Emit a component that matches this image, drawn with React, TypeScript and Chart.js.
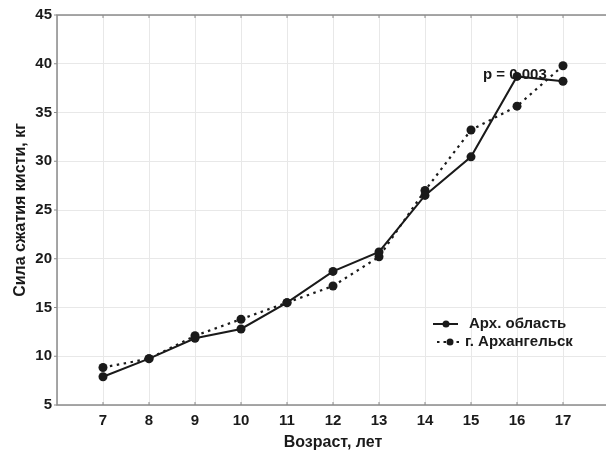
import { useEffect, useRef } from "react";
import { Chart, registerables } from "chart.js";

Chart.register(...registerables);

// Age groups (years)
const ages = [7, 8, 9, 10, 11, 12, 13, 14, 15, 16, 17];
// Mean hand grip strength, kg
const regionValues = [7.9, 9.75, 11.85, 12.8, 15.5, 18.7, 20.7, 26.5, 30.45, 38.7, 38.2];
const cityValues = [8.85, 9.75, 12.1, 13.8, 15.5, 17.2, 20.2, 27.0, 33.2, 35.65, 39.8];

const seriesNames = ["Арх. область", "г. Архангельск"];
const xTitle = "Возраст, лет";
const yTitle = "Сила сжатия кисти, кг";
const pLabel = "p = 0.003";
const pLabelAt = { x: 15.26, y: 38.85 };

const FONT = "'Liberation Sans', Arial, sans-serif";
const INK = "#1a1a1a";
const AXIS = "#8a8a8a";

const frameAndLegend = {
  id: "frameAndLegend",
  beforeDatasetsDraw(chart: any) {
    const { ctx, scales } = chart;
    ctx.save();
    ctx.font = `bold 15px ${FONT}`;
    ctx.fillStyle = INK;
    ctx.textAlign = "left";
    ctx.textBaseline = "middle";
    ctx.fillText(pLabel, scales.x.getPixelForValue(pLabelAt.x), scales.y.getPixelForValue(pLabelAt.y));
    ctx.restore();
  },
  afterDraw(chart: any) {
    const { ctx, chartArea: a, scales } = chart;
    ctx.save();
    // frame
    ctx.strokeStyle = AXIS;
    ctx.lineWidth = 1.5;
    ctx.strokeRect(a.left, a.top, a.right - a.left, a.bottom - a.top);
    // inward tick marks
    ctx.lineWidth = 1;
    scales.x.ticks.forEach((t: any) => {
      if (t.value <= 6 || t.value >= 18) return;
      const px = scales.x.getPixelForValue(t.value);
      ctx.beginPath();
      ctx.moveTo(px, a.bottom);
      ctx.lineTo(px, a.bottom - 3);
      ctx.moveTo(px, a.top);
      ctx.lineTo(px, a.top + 3);
      ctx.stroke();
    });
    scales.y.ticks.forEach((t: any) => {
      const py = scales.y.getPixelForValue(t.value);
      ctx.beginPath();
      ctx.moveTo(a.left, py);
      ctx.lineTo(a.left - 3, py);
      ctx.moveTo(a.right, py);
      ctx.lineTo(a.right - 3, py);
      ctx.stroke();
    });

    // legend
    const lx = a.left + 376;
    const rows = [
      { y: a.bottom - 81, dash: [] as number[] },
      { y: a.bottom - 63, dash: [2.5, 4] },
    ];
    rows.forEach((r, i) => {
      const x0 = lx + (i === 0 ? 0 : 4);
      ctx.strokeStyle = INK;
      ctx.lineWidth = 2;
      ctx.setLineDash(r.dash);
      ctx.beginPath();
      ctx.moveTo(x0, r.y);
      ctx.lineTo(x0 + 25, r.y);
      ctx.stroke();
      ctx.setLineDash([]);
      ctx.fillStyle = INK;
      ctx.beginPath();
      ctx.arc(x0 + 13, r.y, 3.5, 0, Math.PI * 2);
      ctx.fill();
      ctx.font = `bold 15px ${FONT}`;
      ctx.textAlign = "left";
      ctx.textBaseline = "middle";
      ctx.fillText(seriesNames[i], i === 0 ? lx + 36 : lx + 32, r.y);
    });
    ctx.restore();
  },
};

export default function App() {
  const ref = useRef<HTMLCanvasElement | null>(null);

  useEffect(() => {
    if (!ref.current) return;
    const chart = new Chart(ref.current, {
      type: "line",
      data: {
        datasets: [
          {
            label: seriesNames[0],
            data: ages.map((a, i) => ({ x: a, y: regionValues[i] })),
            borderColor: INK,
            backgroundColor: INK,
            borderWidth: 2,
            pointRadius: 4.5,
            pointBackgroundColor: INK,
            pointBorderWidth: 0,
            tension: 0,
          },
          {
            label: seriesNames[1],
            data: ages.map((a, i) => ({ x: a, y: cityValues[i] })),
            borderColor: INK,
            backgroundColor: INK,
            borderWidth: 2.2,
            borderDash: [2.5, 4.5],
            pointRadius: 4.5,
            pointBackgroundColor: INK,
            pointBorderWidth: 0,
            tension: 0,
          },
        ],
      },
      options: {
        responsive: false,
        animation: false,
        layout: { padding: { top: 15, right: 0, left: 0, bottom: 0 } },
        plugins: {
          legend: { display: false },
          tooltip: { enabled: false },
        },
        scales: {
          x: {
            type: "linear",
            min: 6,
            max: 18,
            afterFit: (s: any) => {
              s.height = 47;
            },
            ticks: {
              stepSize: 1,
              padding: 7,
              color: INK,
              font: { family: FONT, size: 15, weight: "bold" },
              callback: (v: any) => (v <= 6 || v >= 18 ? "" : String(v)),
            },
            grid: { color: "#e8e8e8", lineWidth: 1, drawTicks: false },
            border: { display: false },
            title: {
              display: true,
              text: xTitle,
              color: INK,
              font: { family: FONT, size: 16, weight: "bold" },
              padding: { top: 0, bottom: 0 },
            },
          },
          y: {
            type: "linear",
            min: 5,
            max: 45,
            afterFit: (s: any) => {
              s.width = 57;
            },
            ticks: {
              stepSize: 5,
              padding: 5,
              color: INK,
              font: { family: FONT, size: 15, weight: "bold" },
            },
            grid: { color: "#e8e8e8", lineWidth: 1, drawTicks: false },
            border: { display: false },
            title: {
              display: true,
              text: yTitle,
              color: INK,
              font: { family: FONT, size: 16, weight: "bold" },
              padding: { top: 11, bottom: 0 },
            },
          },
        },
      },
      plugins: [frameAndLegend],
    });
    return () => chart.destroy();
  }, []);

  return (
    <div
      style={{
        position: "fixed",
        left: 0,
        top: 0,
        width: 606,
        height: 452,
        overflow: "hidden",
        background: "#fff",
      }}
    >
      <canvas ref={ref} width={616} height={452} style={{ display: "block" }} />
    </div>
  );
}
